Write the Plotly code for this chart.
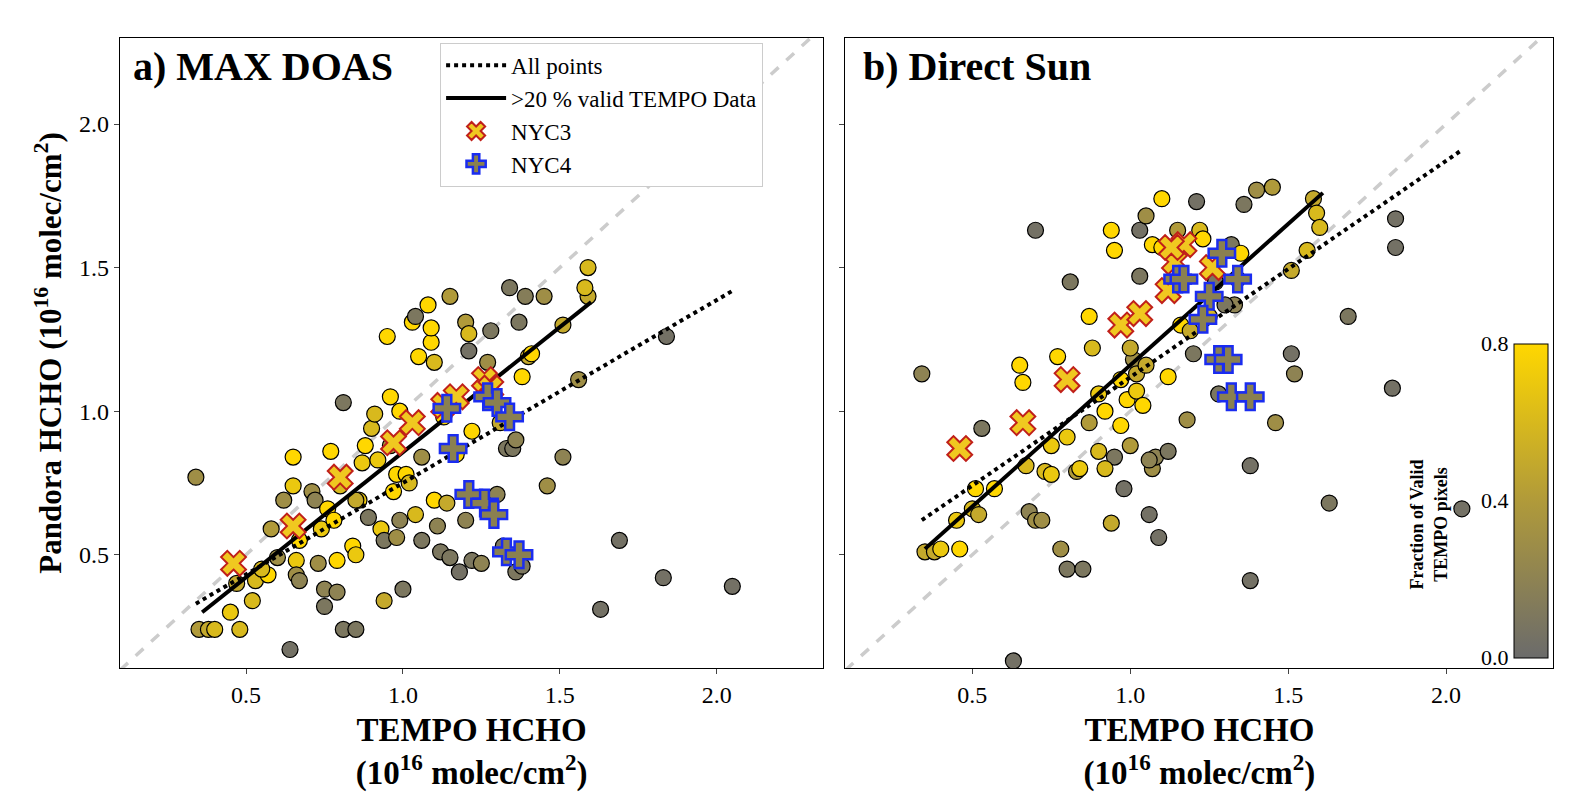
import plotly.graph_objects as go

# ---- panel a: MAX DOAS ----
a_x = [0.34,0.64,1.63,1.69,1.83,2.05,1.84,1.51,1.46,1.51,1.59,1.58,1.59,1.56,1.45,1.39,1.34,1.37,1.28,
       0.35,0.38,0.40,0.45,0.48,0.47,0.52,0.53,0.57,0.65,0.65,0.67,0.66,0.66,0.67,0.71,0.72,0.74,0.73,0.75,
       0.75,0.76,0.78,0.77,0.79,0.79,0.80,0.81,0.81,0.85,0.84,0.85,0.86,0.87,0.90,0.91,0.92,0.93,0.94,0.94,
       0.95,0.96,0.97,0.98,0.99,0.99,1.00,1.01,1.02,1.03,1.04,1.05,1.06,1.06,1.08,1.09,1.09,1.10,1.10,1.11,
       1.12,1.14,1.15,1.15,1.17,1.18,1.20,1.21,1.21,1.22,1.22,1.25,1.27,1.30,1.31,1.33,1.35,1.36,1.38,1.40,
       1.41,1.36,1.38,1.20,1.32,0.85,0.88,0.96,0.89,1.13,0.58,0.62,0.60,0.55,0.98,1.04]
a_y = [0.77,0.17,0.31,0.55,0.42,0.39,1.26,0.84,0.74,1.30,1.40,1.43,1.50,1.11,1.40,1.40,1.43,1.31,1.28,
       0.24,0.24,0.24,0.30,0.24,0.40,0.34,0.41,0.43,0.84,0.74,0.55,0.48,0.43,0.41,0.72,0.69,0.59,0.47,0.38,
       0.32,0.66,0.62,0.86,0.48,0.37,0.74,1.03,0.24,0.24,0.53,0.50,0.69,0.82,0.94,0.99,0.83,0.59,0.34,0.55,
       1.26,1.05,0.72,0.78,1.00,0.62,0.38,0.78,0.75,1.31,1.33,1.19,0.55,0.84,1.37,1.24,1.29,1.17,0.69,0.60,
       0.51,0.68,0.49,1.40,0.85,0.44,1.31,1.27,1.21,0.93,0.48,0.47,1.17,0.71,0.96,0.87,0.87,0.90,1.12,1.19,
       1.20,0.44,0.46,0.62,0.53,0.69,0.88,0.88,0.63,0.98,0.59,0.69,0.49,0.45,0.56,0.64]
a_c = [0.3,0.05,0.05,0.05,0.05,0.05,0.05,0.2,0.3,0.5,0.5,0.6,0.6,0.3,0.3,0.15,0.1,0.1,0.1,
       0.4,0.5,0.6,0.7,0.6,0.5,0.6,0.6,0.8,0.8,0.7,0.8,0.7,0.3,0.2,0.3,0.2,0.7,0.3,0.2,
       0.1,0.8,0.8,0.8,0.8,0.2,0.6,0.1,0.1,0.1,0.8,0.7,0.7,0.7,0.6,0.6,0.7,0.7,0.5,0.1,
       0.8,0.8,0.8,0.8,0.8,0.2,0.1,0.8,0.6,0.8,0.1,0.8,0.1,0.3,0.8,0.8,0.8,0.6,0.8,0.2,
       0.1,0.5,0.1,0.4,0.8,0.05,0.4,0.6,0.05,0.8,0.1,0.2,0.3,0.2,0.5,0.1,0.1,0.2,0.8,0.5,
       0.8,0.1,0.1,0.2,0.1,0.5,0.8,0.4,0.1,0.8,0.4,0.3,0.3,0.6,0.3,0.6]
a_nyc3_x = [0.46,0.65,0.80,0.97,1.03,1.13,1.17,1.26,1.28]
a_nyc3_y = [0.47,0.60,0.77,0.89,0.96,1.02,1.05,1.11,1.08]
a_nyc4_x = [1.14,1.16,1.27,1.30,1.34,1.21,1.26,1.29,1.33,1.37]
a_nyc4_y = [1.01,0.87,1.05,1.03,0.98,0.71,0.68,0.64,0.51,0.50]

# ---- panel b: Direct Sun ----
b_x = [0.34,0.63,0.70,1.63,1.69,1.83,2.05,1.84,1.84,1.51,1.52,1.46,1.38,1.38,1.58,1.59,1.60,1.56,1.51,
       1.45,1.40,1.36,1.33,1.21,1.10,1.15,
       0.35,0.38,0.40,0.46,0.45,0.50,0.52,0.51,0.53,0.57,0.65,0.66,0.67,0.68,0.70,0.72,0.73,0.75,0.75,
       0.77,0.78,0.80,0.80,0.81,0.83,0.84,0.85,0.87,0.87,0.90,0.92,0.94,0.94,0.95,0.95,0.97,0.98,0.99,
       1.00,1.01,1.02,1.02,1.03,1.03,1.05,1.06,1.07,1.07,1.08,1.09,1.10,1.12,1.14,1.16,1.18,1.19,1.20,
       1.22,1.23,1.25,1.28,1.30,1.32,1.34,1.35,1.27,1.06,0.97,0.90,1.00,1.04,1.12,1.05,0.88,0.92]
b_y = [1.13,0.13,1.63,0.68,1.33,1.08,0.66,1.57,1.67,1.20,1.13,0.96,0.41,0.81,1.74,1.69,1.64,1.56,1.49,
       1.78,1.77,1.72,1.37,1.73,1.74,1.63,
       0.51,0.51,0.52,0.52,0.62,0.66,0.64,0.73,0.94,0.73,1.16,1.10,0.81,0.65,0.62,0.62,0.79,0.78,0.88,
       1.19,0.52,0.45,0.91,1.45,0.79,0.80,0.45,1.33,0.96,1.06,1.00,0.61,1.63,1.56,0.84,1.11,0.73,1.04,
       0.88,1.18,1.07,1.13,1.47,1.63,1.68,0.64,0.80,1.58,0.84,0.56,1.57,0.86,1.55,1.30,0.97,1.28,1.20,
       1.63,1.60,1.33,1.06,1.37,1.58,1.46,1.55,1.45,0.83,0.95,0.86,1.22,1.02,1.12,1.16,1.22,0.80]
b_c = [0.2,0.05,0.05,0.1,0.1,0.05,0.05,0.05,0.05,0.05,0.2,0.3,0.05,0.05,0.5,0.6,0.6,0.6,0.5,
       0.4,0.3,0.1,0.2,0.05,0.8,0.4,
       0.5,0.5,0.7,0.8,0.7,0.6,0.5,0.8,0.1,0.8,0.8,0.8,0.6,0.2,0.3,0.3,0.6,0.7,0.7,
       0.8,0.3,0.1,0.7,0.1,0.4,0.7,0.1,0.8,0.4,0.7,0.8,0.5,0.8,0.8,0.1,0.8,0.05,0.8,
       0.4,0.3,0.7,0.5,0.1,0.05,0.3,0.05,0.3,0.8,0.2,0.05,0.8,0.1,0.3,0.8,0.3,0.5,0.1,
       0.6,0.8,0.6,0.1,0.1,0.1,0.5,0.8,0.1,0.2,0.8,0.6,0.5,0.8,0.8,0.5,0.6,0.6]
b_nyc3_x = [0.46,0.66,0.80,0.97,1.03,1.12,1.14,1.17,1.13,1.26]
b_nyc3_y = [0.87,0.96,1.11,1.30,1.34,1.42,1.52,1.58,1.57,1.50]
b_nyc4_x = [1.15,1.17,1.25,1.29,1.23,1.34,1.28,1.31,1.32,1.38]
b_nyc4_y = [1.46,1.46,1.40,1.55,1.32,1.46,1.18,1.18,1.05,1.05]

# regression fits: [slope, intercept, x_start, x_end]
a_fit_valid = [0.871, -0.014, 0.36, 1.60]
a_fit_all = [0.637, 0.113, 0.34, 2.05]
b_fit_valid = [0.984, 0.176, 0.35, 1.61]
b_fit_all = [0.754, 0.364, 0.34, 2.05]

# colorbar ticks
cb_ticks = [0.0, 0.4, 0.8]

cscale = [[0, "#6b6b6b"], [0.5, "#b09a3a"], [1, "#ffd700"]]
FONT = "Liberation Serif"
CB_Y0, CB_Y1 = 0.196, 0.585

fig = go.Figure()


def add_panel(xs, ys, cs, n3x, n3y, n4x, n4y, fit_v, fit_a, xa, ya, first):
    fig.add_trace(go.Scatter(x=[0, 2.5], y=[0, 2.5], mode="lines", xaxis=xa, yaxis=ya,
                             line=dict(color="#cccccc", width=3.5, dash="dash"), showlegend=False))
    cbar = dict(x=0.955, xanchor="left", xpad=0, y=CB_Y0, yanchor="bottom", ypad=0,
                len=CB_Y1 - CB_Y0, lenmode="fraction", thickness=34,
                outlinecolor="black", outlinewidth=1, showticklabels=False, ticks="")
    fig.add_trace(go.Scatter(x=xs, y=ys, mode="markers", xaxis=xa, yaxis=ya, showlegend=False,
                             marker=dict(size=16, color=cs, cmin=0, cmax=0.8, colorscale=cscale,
                                         line=dict(color="black", width=1.2),
                                         showscale=not first, colorbar=cbar)))
    for s, i, x0, x1, dash, name in [(fit_a[0], fit_a[1], fit_a[2], fit_a[3], "dot", "All points"),
                                       (fit_v[0], fit_v[1], fit_v[2], fit_v[3], "solid", ">20 % valid TEMPO Data")]:
        fig.add_trace(go.Scatter(x=[x0, x1], y=[s * x0 + i, s * x1 + i], mode="lines", xaxis=xa, yaxis=ya,
                                 line=dict(color="black", width=4, dash=dash), name=name, showlegend=first))
    fig.add_trace(go.Scatter(x=n3x, y=n3y, mode="markers", xaxis=xa, yaxis=ya, name="NYC3", showlegend=first,
                             marker=dict(symbol="x", size=22, color="#f0c820",
                                         line=dict(color="#c0201a", width=2))))
    fig.add_trace(go.Scatter(x=n4x, y=n4y, mode="markers", xaxis=xa, yaxis=ya, name="NYC4", showlegend=first,
                             marker=dict(symbol="cross", size=22, color="#8a8050",
                                         line=dict(color="#1a2cf0", width=2.5))))


add_panel(a_x, a_y, a_c, a_nyc3_x, a_nyc3_y, a_nyc4_x, a_nyc4_y, a_fit_valid, a_fit_all, "x", "y", True)
add_panel(b_x, b_y, b_c, b_nyc3_x, b_nyc3_y, b_nyc4_x, b_nyc4_y, b_fit_valid, b_fit_all, "x2", "y2", False)

ax = dict(range=[0.098, 2.34], tickvals=[0.5, 1.0, 1.5, 2.0], ticktext=["0.5", "1.0", "1.5", "2.0"],
          showgrid=False, zeroline=False, showline=True, mirror=True, linecolor="black", linewidth=1.2,
          ticks="outside", ticklen=5, tickfont=dict(family=FONT, size=24, color="black"),
          title=dict(text="<b>TEMPO HCHO<br>(10<sup>16</sup> molec/cm<sup>2</sup>)</b>",
                     font=dict(family=FONT, size=33, color="black"), standoff=10))
ay = dict(range=[0.105, 2.30], tickvals=[0.5, 1.0, 1.5, 2.0], ticktext=["0.5", "1.0", "1.5", "2.0"],
          showgrid=False, zeroline=False, showline=True, mirror=True, linecolor="black", linewidth=1.2,
          ticks="outside", ticklen=5, tickfont=dict(family=FONT, size=24, color="black"))

anns = [
    dict(text="<b>a) MAX DOAS</b>", x=0.078, y=0.958, xref="paper", yref="paper",
         xanchor="left", yanchor="top", showarrow=False, font=dict(family=FONT, size=40, color="black")),
    dict(text="<b>b) Direct Sun</b>", x=0.541, y=0.958, xref="paper", yref="paper",
         xanchor="left", yanchor="top", showarrow=False, font=dict(family=FONT, size=40, color="black")),
    dict(text="<b>Fraction of Valid<br>TEMPO pixels</b>", x=0.901, y=(CB_Y0 + CB_Y1) / 2 - 0.03,
         xref="paper", yref="paper", xanchor="center", yanchor="middle", textangle=-90, showarrow=False,
         font=dict(family=FONT, size=18, color="black")),
]
for t in cb_ticks:
    anns.append(dict(text=f"{t:.1f}", x=0.953, y=CB_Y0 + (CB_Y1 - CB_Y0) * t / 0.8, xref="paper", yref="paper",
                     xanchor="right", yanchor="middle", showarrow=False,
                     font=dict(family=FONT, size=22, color="black")))

fig.update_layout(
    width=1577, height=808, plot_bgcolor="white", paper_bgcolor="white",
    margin=dict(l=0, r=0, t=0, b=0),
    xaxis=dict(ax, domain=[0.071, 0.517], anchor="y"),
    yaxis=dict(ay, domain=[0.183, 0.963], anchor="x",
               title=dict(text="<b>Pandora HCHO (10<sup>16</sup> molec/cm<sup>2</sup>)</b>",
                          font=dict(family=FONT, size=31, color="black"), standoff=8)),
    xaxis2=dict(ax, domain=[0.531, 0.980], anchor="y2"),
    yaxis2=dict(ay, domain=[0.183, 0.963], anchor="x2", showticklabels=False),
    legend=dict(x=0.274, y=0.957, xanchor="left", yanchor="top", bgcolor="white",
                bordercolor="#cccccc", borderwidth=1, font=dict(family=FONT, size=23, color="black"),
                itemwidth=60, tracegroupgap=4),
    annotations=anns,
)

fig.write_html("out.html")
